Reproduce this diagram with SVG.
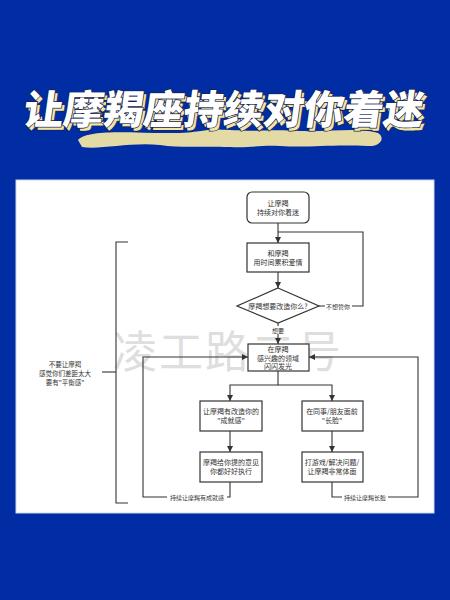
<svg xmlns="http://www.w3.org/2000/svg" width="450" height="600" viewBox="0 0 450 600">
<defs>
<style>
.t{font-family:"Noto Sans CJK SC","Noto Sans",sans-serif;font-size:7px;fill:#333;text-anchor:middle;dominant-baseline:central}
.nt{font-family:"Noto Sans CJK SC","Noto Sans",sans-serif;font-size:6.5px;fill:#333;text-anchor:middle;dominant-baseline:central}
.lbl{font-family:"Noto Sans CJK SC","Noto Sans",sans-serif;font-size:6px;fill:#333;text-anchor:middle;dominant-baseline:central}
.box{fill:#fff;stroke:#333;stroke-width:1.2}
.ln{fill:none;stroke:#333;stroke-width:1.1}
.title{font-family:"Noto Sans CJK SC","Noto Sans",sans-serif;font-size:40px;font-weight:900;text-anchor:middle}
</style>
<marker id="ah" viewBox="0 0 10 10" refX="10" refY="5" markerWidth="6" markerHeight="6" orient="auto" markerUnits="userSpaceOnUse">
<path d="M0,0 L10,5 L0,10 Z" fill="#333"/>
</marker>
</defs>
<rect x="0" y="0" width="450" height="600" fill="#002DA3"/>
<g id="title">
<path d="M78,140 C90,128 140,134 175,133 C210,132 200,128 230,130 C270,132 262,129 300,131 C330,132 360,127 378,133 C386,138 380,147 368,146 C330,144 310,148 280,146 C260,145 250,148 230,147 C200,146 180,148 160,145 C130,142 100,150 82,147 Z" fill="#E3DAA6"/>
<g transform="translate(222,124) skewX(-8)">
<text class="title" x="3" y="3" fill="#EFE6A8" stroke="#1a2450" stroke-width="1.5" paint-order="stroke">让摩羯座持续对你着迷</text>
<text class="title" x="0" y="0" fill="#fff" stroke="#1a2450" stroke-width="1.5" paint-order="stroke">让摩羯座持续对你着迷</text>
</g>
</g>
<rect x="16" y="180" width="418" height="333" fill="#fff" stroke="#cfd8ee" stroke-width="1"/>
<text x="228" y="368" font-family="Noto Sans CJK SC,sans-serif" font-size="44" fill="#bdbdbd" fill-opacity="0.5" text-anchor="middle" letter-spacing="2">凌工路二号</text>
<g id="connectors">
<path class="ln" d="M278,223 V243" marker-end="url(#ah)"/>
<path class="ln" d="M278,272 V288" marker-end="url(#ah)"/>
<path class="ln" d="M319,306 H363 V232 H278"/>
<path class="ln" d="M278,323 V344" marker-end="url(#ah)"/>
<path class="ln" d="M278,371 V385 H230 V401" marker-end="url(#ah)"/>
<path class="ln" d="M278,385 H332 V401" marker-end="url(#ah)"/>
<path class="ln" d="M230,431 V452" marker-end="url(#ah)"/>
<path class="ln" d="M332,431 V452" marker-end="url(#ah)"/>
<path class="ln" d="M230,482 V497 H143 V357 H248" marker-end="url(#ah)"/>
<path class="ln" d="M332,482 V497 H418 V357 H309" marker-end="url(#ah)"/>
<path class="ln" d="M128,242 H116 V503 H128"/>
<path class="ln" d="M102,372 H116"/>
<rect x="325" y="302" width="27" height="8" fill="#fff"/>
<text class="lbl" x="338" y="306">不想管你</text>
<rect x="270" y="326" width="16" height="8" fill="#fff"/>
<text class="lbl" x="278" y="330">想要</text>
<rect x="167" y="493" width="60" height="8" fill="#fff"/>
<text class="lbl" x="197" y="497">持续让摩羯有成就感</text>
<rect x="342" y="493" width="46" height="8" fill="#fff"/>
<text class="lbl" x="365" y="497">持续让摩羯长脸</text>
</g>
<g id="n1"><rect class="box" x="247" y="192" width="62" height="31" rx="5"/><text class="t" x="278" y="203">让摩羯</text><text class="t" x="278" y="212">持续对你着迷</text></g>
<g id="n2"><rect class="box" x="247" y="243" width="62" height="29"/><text class="t" x="278" y="253">和摩羯</text><text class="t" x="278" y="262">用时间累积爱情</text></g>
<g id="n3"><path class="box" d="M278,288 L319,306 L278,323 L237,306 Z"/><text class="t" x="278" y="306">摩羯想要改造你么?</text></g>
<g id="n4"><rect class="box" x="248" y="344" width="61" height="27"/><text class="t" x="278" y="349">在摩羯</text><text class="t" x="278" y="357.5">感兴趣的领域</text><text class="t" x="278" y="366">闪闪发光</text></g>
<g id="n5"><rect class="box" x="200" y="401" width="62" height="30"/><text class="t" x="231" y="411">让摩羯有改造你的</text><text class="t" x="231" y="420">"成就感"</text></g>
<g id="n6"><rect class="box" x="302" y="401" width="61" height="30"/><text class="t" x="332" y="411">在同事/朋友面前</text><text class="t" x="332" y="420">"长脸"</text></g>
<g id="n7"><rect class="box" x="200" y="452" width="62" height="30"/><text class="t" x="231" y="462">摩羯给你提的意见</text><text class="t" x="231" y="471">你都好好执行</text></g>
<g id="n8"><rect class="box" x="302" y="452" width="61" height="30"/><text class="t" x="332" y="462">打游戏/解决问题/</text><text class="t" x="332" y="471">让摩羯非常体面</text></g>
<g id="note"><text class="nt" x="65" y="364">不要让摩羯</text><text class="nt" x="65" y="373">感觉你们差距太大</text><text class="nt" x="65" y="382">要有"平衡感"</text></g>
</svg>
